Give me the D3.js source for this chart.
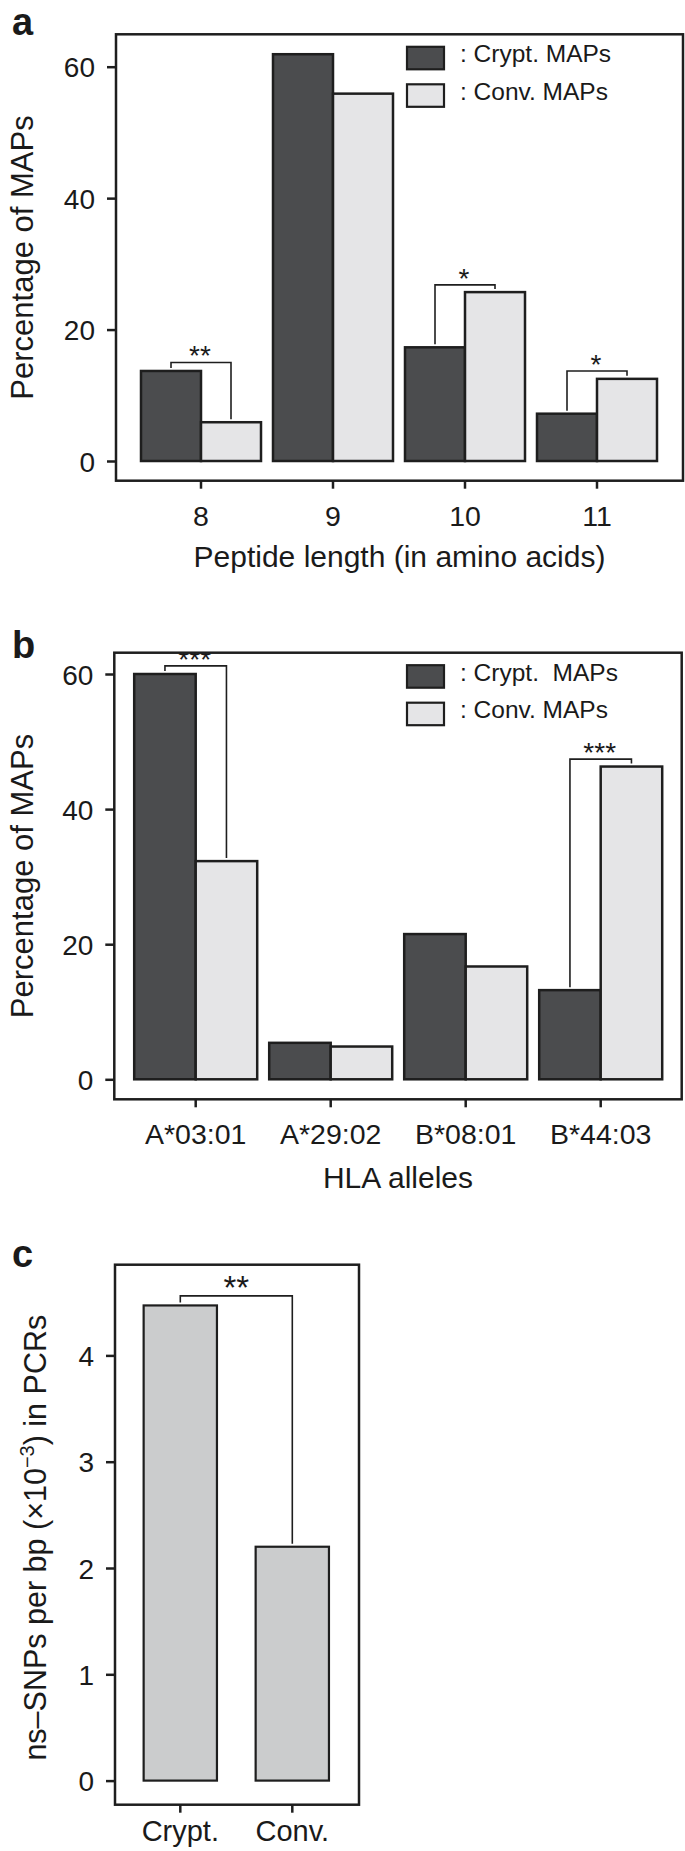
<!DOCTYPE html>
<html>
<head>
<meta charset="utf-8">
<script src="https://cdn.jsdelivr.net/npm/d3@7"></script>
<style>
  body { margin: 0; background: #fff; }
  svg text { font-family: "Liberation Sans", Arial, Helvetica, sans-serif; fill: #1a1a1a; }
</style>
</head>
<body>
<svg></svg>
<script>
        const svgWidth = 685;
        const svgHeight = 1851;

        // panel a : peptide length
        const lengthCats = ["8", "9", "10", "11"];
        const lengthCrypt = [13.7, 61.9, 17.3, 7.2];
        const lengthConv = [5.9, 55.9, 25.7, 12.5];
        const lengthTicks = [0, 20, 40, 60];
        const lengthSigCats = ["8", "10", "11"];
        const lengthSigLevels = [15.0, 26.8, 13.7];
        const lengthSigLabels = ["**", "*", "*"];

        // panel b : HLA alleles
        const alleleCats = ["A*03:01", "A*29:02", "B*08:01", "B*44:03"];
        const alleleCrypt = [60.0, 5.4, 21.5, 13.2];
        const alleleConv = [32.3, 4.85, 16.7, 46.3];
        const alleleTicks = [0, 20, 40, 60];
        const alleleSigCats = ["A*03:01", "B*44:03"];
        const alleleSigLevels = [61.2, 47.4];
        const alleleSigLabels = ["***", "***"];

        // panel c : ns-SNPs
        const snpCats = ["Crypt.", "Conv."];
        const snpValues = [4.47, 2.2];
        const snpTicks = [0, 1, 2, 3, 4];
        const snpSigLevel = 4.56;
        const snpSigLabel = "**";

        const darkFill = "#4b4c4e";
        const lightFill = "#e5e5e7";
        const greyFill = "#cbcccd";
        const ink = "#1e1e1e";

        const svg = d3.select("svg")
            .attr("width", svgWidth)
            .attr("height", svgHeight);

        function styleAxis(g, fontSize) {
            g.select(".domain").remove();
            g.selectAll(".tick line").attr("stroke", ink).attr("stroke-width", 2.5);
            g.selectAll(".tick text").attr("font-size", fontSize).attr("fill", ink);
        }

        function drawGrouped(p) {
            const g = svg.append("g");

            const x = d3.scaleBand()
                .domain(p.cats)
                .range(p.xRange)
                .paddingInner(p.padInner)
                .paddingOuter(p.padInner / 2);
            const x1 = d3.scaleBand()
                .domain(["crypt", "conv"])
                .range([0, x.bandwidth()]);
            const y = d3.scaleLinear()
                .domain([0, 60])
                .range([p.y0, p.y60]);

            const rows = p.cats.map((c, i) => ({ cat: c, crypt: p.crypt[i], conv: p.conv[i] }));

            // bars
            const grp = g.selectAll(".grp")
                .data(rows)
                .enter().append("g")
                .attr("transform", d => `translate(${x(d.cat)},0)`);
            grp.selectAll("rect")
                .data(d => [{ k: "crypt", v: d.crypt }, { k: "conv", v: d.conv }])
                .enter().append("rect")
                .attr("x", d => x1(d.k))
                .attr("width", x1.bandwidth())
                .attr("y", d => y(d.v))
                .attr("height", d => y(0) - y(d.v))
                .attr("fill", d => d.k === "crypt" ? darkFill : lightFill)
                .attr("stroke", ink)
                .attr("stroke-width", 2.5);

            // significance brackets, clipped to the frame like the original
            const clipId = "clip-" + p.id;
            g.append("clipPath").attr("id", clipId)
                .append("rect")
                .attr("x", p.box[0]).attr("y", p.box[1])
                .attr("width", p.box[2] - p.box[0]).attr("height", p.box[3] - p.box[1]);
            const sg = g.append("g").attr("clip-path", `url(#${clipId})`);
            p.sigCats.forEach((c, i) => {
                const k = p.cats.indexOf(c);
                const xa = x(c) + x1("crypt") + x1.bandwidth() / 2;
                const xb = x(c) + x1("conv") + x1.bandwidth() / 2;
                const yl = y(p.sigLevels[i]);
                sg.append("path")
                    .attr("d", `M${xa},${y(p.crypt[k]) - 3}V${yl}H${xb}V${y(p.conv[k]) - 3}`)
                    .attr("fill", "none")
                    .attr("stroke", ink)
                    .attr("stroke-width", 1.6);
                sg.append("text")
                    .attr("x", (xa + xb) / 2 - 1)
                    .attr("y", yl + 3)
                    .attr("text-anchor", "middle")
                    .attr("font-size", 28)
                    .text(p.sigLabels[i]);
            });

            // frame
            g.append("rect")
                .attr("x", p.box[0]).attr("y", p.box[1])
                .attr("width", p.box[2] - p.box[0]).attr("height", p.box[3] - p.box[1])
                .attr("fill", "none")
                .attr("stroke", ink)
                .attr("stroke-width", 2.5);

            // axes
            g.append("g")
                .attr("transform", `translate(${p.box[0]},0)`)
                .call(d3.axisLeft(y).tickValues(p.ticks).tickSize(9).tickPadding(12).tickFormat(d3.format("d")))
                .call(a => styleAxis(a, 28))
                .selectAll(".tick text").attr("dy", "0.36em");
            g.append("g")
                .attr("transform", `translate(0,${p.box[3]})`)
                .call(d3.axisBottom(x).tickSize(8))
                .call(a => styleAxis(a, 28.5))
                .selectAll(".tick text").attr("dy", null).attr("y", 45);

            // legend
            const lg = g.append("g").attr("transform", `translate(407,${p.box[1]})`);
            p.legend.forEach((t, i) => {
                lg.append("rect")
                    .attr("x", 0).attr("y", 12.5 + i * 37.5)
                    .attr("width", 37).attr("height", 22.5)
                    .attr("fill", i === 0 ? darkFill : lightFill)
                    .attr("stroke", ink)
                    .attr("stroke-width", 2.2);
                lg.append("text")
                    .attr("x", 53).attr("y", 28 + i * 37.5)
                    .attr("font-size", 24.5)
                    .attr("xml:space", "preserve")
                    .style("white-space", "pre")
                    .text(t);
            });

            // titles
            const midY = (p.box[1] + p.box[3]) / 2;
            g.append("text")
                .attr("transform", `translate(33,${midY}) rotate(-90)`)
                .attr("text-anchor", "middle")
                .attr("font-size", 31)
                .text("Percentage of MAPs");
            g.append("text")
                .attr("x", (p.box[0] + p.box[2]) / 2)
                .attr("y", p.xTitleY)
                .attr("text-anchor", "middle")
                .attr("font-size", 30)
                .text(p.xTitle);
            g.append("text")
                .attr("x", 12).attr("y", p.letterY)
                .attr("font-size", 38)
                .attr("font-weight", "bold")
                .text(p.letter);
        }

        drawGrouped({
            id: "a", letter: "a", letterY: 35,
            cats: lengthCats, crypt: lengthCrypt, conv: lengthConv, ticks: lengthTicks,
            sigCats: lengthSigCats, sigLevels: lengthSigLevels, sigLabels: lengthSigLabels,
            box: [116, 34.3, 683, 480.7], y0: 461, y60: 66.7,
            xRange: [135, 663], padInner: 12 / 132,
            legend: [": Crypt. MAPs", ": Conv. MAPs"],
            xTitle: "Peptide length (in amino acids)", xTitleY: 567
        });

        drawGrouped({
            id: "b", letter: "b", letterY: 658,
            cats: alleleCats, crypt: alleleCrypt, conv: alleleConv, ticks: alleleTicks,
            sigCats: alleleSigCats, sigLevels: alleleSigLevels, sigLabels: alleleSigLabels,
            box: [114.3, 652.7, 681.7, 1099.3], y0: 1079.3, y60: 674,
            xRange: [128.2, 668.2], padInner: 12 / 135,
            legend: [": Crypt.  MAPs", ": Conv. MAPs"],
            xTitle: "HLA alleles", xTitleY: 1188
        });

        // panel c
        (function () {
            const box = [115, 1264.7, 359, 1804.7];
            const g = svg.append("g");
            const x = d3.scaleBand()
                .domain(snpCats)
                .range([124.3, 348.3])
                .paddingInner(0.3455)
                .paddingOuter(0.1727);
            const y = d3.scaleLinear()
                .domain([0, 4])
                .range([1780.6, 1355.4]);

            g.selectAll("rect.bar")
                .data(snpCats)
                .enter().append("rect")
                .attr("class", "bar")
                .attr("x", d => x(d))
                .attr("width", x.bandwidth())
                .attr("y", (d, i) => y(snpValues[i]))
                .attr("height", (d, i) => y(0) - y(snpValues[i]))
                .attr("fill", greyFill)
                .attr("stroke", ink)
                .attr("stroke-width", 2.2);

            const xa = x(snpCats[0]) + x.bandwidth() / 2;
            const xb = x(snpCats[1]) + x.bandwidth() / 2;
            const yl = y(snpSigLevel);
            g.append("path")
                .attr("d", `M${xa},${y(snpValues[0]) - 3}V${yl}H${xb}V${y(snpValues[1]) - 3}`)
                .attr("fill", "none")
                .attr("stroke", ink)
                .attr("stroke-width", 1.6);
            g.append("text")
                .attr("x", (xa + xb) / 2)
                .attr("y", yl + 3)
                .attr("text-anchor", "middle")
                .attr("font-size", 33)
                .text(snpSigLabel);

            g.append("rect")
                .attr("x", box[0]).attr("y", box[1])
                .attr("width", box[2] - box[0]).attr("height", box[3] - box[1])
                .attr("fill", "none")
                .attr("stroke", ink)
                .attr("stroke-width", 2.5);

            g.append("g")
                .attr("transform", `translate(${box[0]},0)`)
                .call(d3.axisLeft(y).tickValues(snpTicks).tickSize(9).tickPadding(12).tickFormat(d3.format("d")))
                .call(a => styleAxis(a, 28))
                .selectAll(".tick text").attr("dy", "0.36em");
            g.append("g")
                .attr("transform", `translate(0,${box[3]})`)
                .call(d3.axisBottom(x).tickSize(8))
                .call(a => styleAxis(a, 29))
                .selectAll(".tick text").attr("dy", null).attr("y", 36);

            const title = g.append("text")
                .attr("transform", `translate(46,${(box[1] + box[3]) / 2 + 3}) rotate(-90)`)
                .attr("text-anchor", "middle")
                .attr("font-size", 30.5);
            title.append("tspan").text("ns\u2013SNPs per bp (\u00d710");
            title.append("tspan").attr("font-size", 20).attr("dy", -12).text("\u22123");
            title.append("tspan").attr("dy", 12).text(") in PCRs");

            g.append("text")
                .attr("x", 12).attr("y", 1266.7)
                .attr("font-size", 38)
                .attr("font-weight", "bold")
                .text("c");
        })();
</script>
</body>
</html>
